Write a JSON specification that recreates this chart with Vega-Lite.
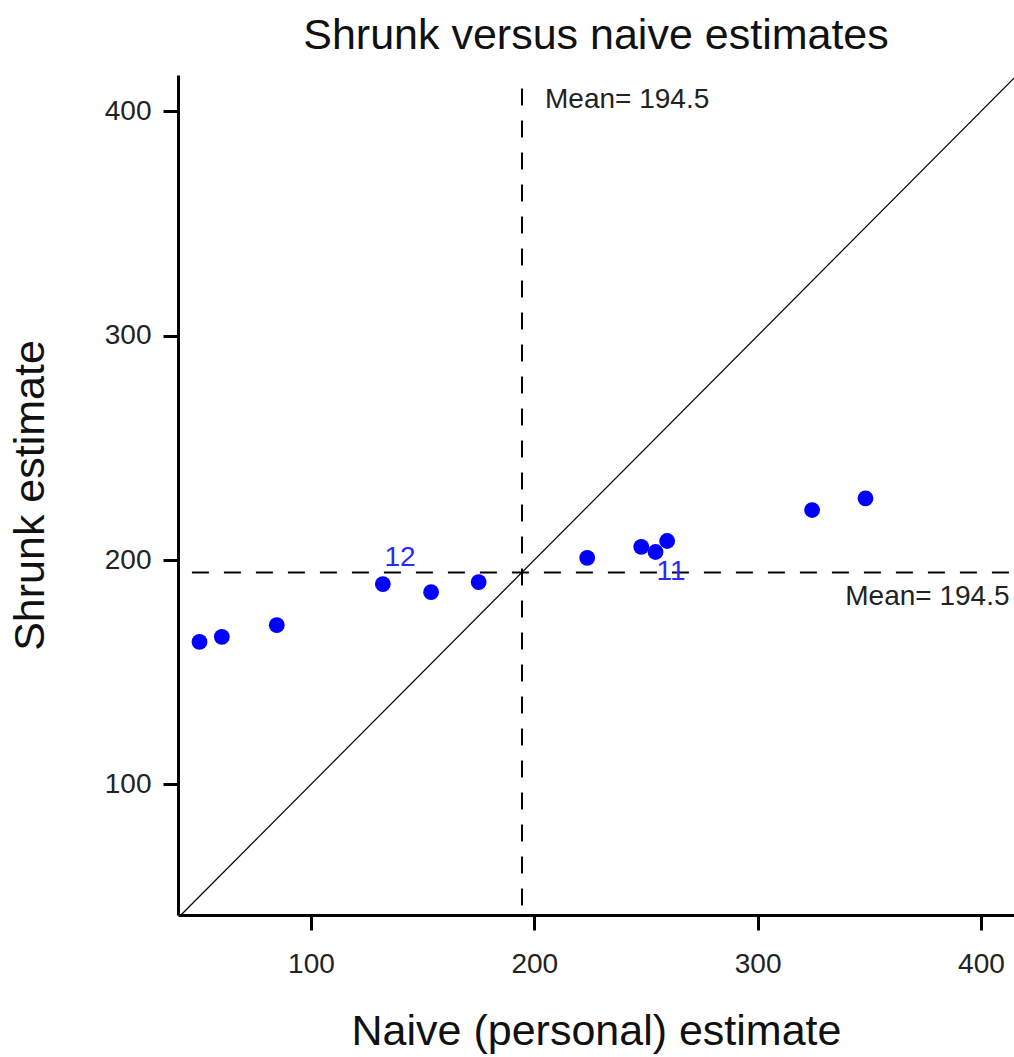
{
  "$schema": "https://vega.github.io/schema/vega-lite/v6.json",
  "width": 836,
  "height": 840,
  "autosize": {"type": "none"},
  "padding": {"left": 178, "top": 75, "right": 0, "bottom": 142},
  "background": "white",
  "title": {
    "text": "Shrunk versus naive estimates",
    "font": "Liberation Sans",
    "fontSize": 43,
    "fontWeight": "normal",
    "color": "#111111",
    "anchor": "middle",
    "baseline": "alphabetic",
    "offset": -17
  },
  "config": {
    "view": {"stroke": null},
    "axis": {
      "grid": false,
      "domainColor": "black",
      "domainWidth": 3,
      "tickColor": "black",
      "tickWidth": 3,
      "tickSize": 15,
      "labelFont": "Liberation Sans",
      "labelFontSize": 28,
      "labelColor": "#222222",
      "titleFont": "Liberation Sans",
      "titleFontSize": 43,
      "titleFontWeight": "normal",
      "titleColor": "#111111"
    }
  },
  "datasets": {
    "points": [
      {"naive": 50.1, "shrunk": 163.5},
      {"naive": 60.1, "shrunk": 165.8},
      {"naive": 84.7, "shrunk": 171.0},
      {"naive": 132.2, "shrunk": 189.3},
      {"naive": 153.8, "shrunk": 185.7},
      {"naive": 175.1, "shrunk": 190.2},
      {"naive": 223.7, "shrunk": 201.0},
      {"naive": 247.9, "shrunk": 205.9},
      {"naive": 254.3, "shrunk": 203.6},
      {"naive": 259.5, "shrunk": 208.5},
      {"naive": 324.4, "shrunk": 222.3},
      {"naive": 348.3, "shrunk": 227.5}
    ],
    "labels": [
      {"naive": 139.9, "shrunk": 200.7, "label": "12"},
      {"naive": 261.2, "shrunk": 194.6, "label": "11"}
    ],
    "diag": [
      {"naive": 41.8, "shrunk": 41.8},
      {"naive": 414.8, "shrunk": 414.8}
    ],
    "vline": [{"naive": 194.5, "shrunk": 46, "shrunk2": 413}],
    "hline": [{"shrunk": 194.5, "naive": 46.7, "naive2": 412.8}],
    "means": [
      {"naive": 204.8, "shrunk": 404.9, "text": "Mean= 194.5", "align": "left"},
      {"naive": 412.8, "shrunk": 183.5, "text": "Mean= 194.5", "align": "right"}
    ]
  },
  "encoding": {
    "x": {
      "field": "naive",
      "type": "quantitative",
      "scale": {"domain": [40.47, 414.8], "nice": false, "zero": false},
      "axis": {
        "values": [100, 200, 300, 400],
        "title": "Naive (personal) estimate",
        "labelPadding": 20,
        "titlePadding": 32
      }
    },
    "y": {
      "field": "shrunk",
      "type": "quantitative",
      "scale": {"domain": [41.8, 416.2], "nice": false, "zero": false},
      "axis": {
        "values": [100, 200, 300, 400],
        "title": "Shrunk estimate",
        "labelPadding": 12,
        "titlePadding": 52
      }
    }
  },
  "layer": [
    {
      "data": {"name": "diag"},
      "mark": {"type": "line", "color": "black", "strokeWidth": 1.2},
      "encoding": {}
    },
    {
      "data": {"name": "vline"},
      "mark": {"type": "rule", "color": "black", "strokeWidth": 2, "strokeDash": [17, 15]},
      "encoding": {"y2": {"field": "shrunk2"}}
    },
    {
      "data": {"name": "hline"},
      "mark": {"type": "rule", "color": "black", "strokeWidth": 2, "strokeDash": [17, 15]},
      "encoding": {"x2": {"field": "naive2"}}
    },
    {
      "data": {"name": "points"},
      "mark": {"type": "circle", "color": "#0000ff", "opacity": 1, "size": 250}
    },
    {
      "data": {"name": "labels"},
      "mark": {"type": "text", "color": "#2a2aff", "font": "Liberation Sans", "fontSize": 28, "align": "center", "baseline": "middle"},
      "encoding": {"text": {"field": "label"}}
    },
    {
      "data": {"name": "means"},
      "transform": [{"filter": "datum.align == 'left'"}],
      "mark": {"type": "text", "color": "#222222", "font": "Liberation Sans", "fontSize": 28, "align": "left", "baseline": "middle"},
      "encoding": {"text": {"field": "text"}}
    },
    {
      "data": {"name": "means"},
      "transform": [{"filter": "datum.align == 'right'"}],
      "mark": {"type": "text", "color": "#222222", "font": "Liberation Sans", "fontSize": 28, "align": "right", "baseline": "middle"},
      "encoding": {"text": {"field": "text"}}
    }
  ]
}
